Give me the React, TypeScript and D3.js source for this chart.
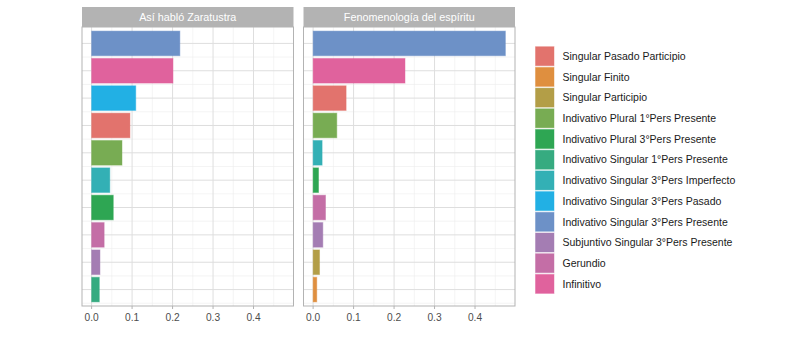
import React from "react";
import * as d3 from "d3";

const levels = [
  "Singular Pasado Participio",
  "Singular Finito",
  "Singular Participio",
  "Indivativo Plural 1°Pers Presente",
  "Indivativo Plural 3°Pers Presente",
  "Indivativo Singular 1°Pers Presente",
  "Indivativo Singular 3°Pers Imperfecto",
  "Indivativo Singular 3°Pers Pasado",
  "Indivativo Singular 3°Pers Presente",
  "Subjuntivo Singular 3°Pers Presente",
  "Gerundio",
  "Infinitivo",
];
const colors = [
  "#e2736d", "#df8f3f", "#b39e47", "#78ac53", "#2ea653", "#36ab80",
  "#33b0b5", "#22b0e4", "#6d91c7", "#a47db3", "#c46ea6", "#e0629d",
];

const panelTitles = ["Así habló Zaratustra", "Fenomenología del espíritu"];

const zaraCats = [
  "Indivativo Singular 3°Pers Presente",
  "Infinitivo",
  "Indivativo Singular 3°Pers Pasado",
  "Singular Pasado Participio",
  "Indivativo Plural 1°Pers Presente",
  "Indivativo Singular 3°Pers Imperfecto",
  "Indivativo Plural 3°Pers Presente",
  "Gerundio",
  "Subjuntivo Singular 3°Pers Presente",
  "Indivativo Singular 1°Pers Presente",
];
const zaraVals = [0.218, 0.201, 0.109, 0.0947, 0.075, 0.045, 0.0535, 0.031, 0.0206, 0.019];

const fenoCats = [
  "Indivativo Singular 3°Pers Presente",
  "Infinitivo",
  "Singular Pasado Participio",
  "Indivativo Plural 1°Pers Presente",
  "Indivativo Singular 3°Pers Imperfecto",
  "Indivativo Plural 3°Pers Presente",
  "Gerundio",
  "Subjuntivo Singular 3°Pers Presente",
  "Singular Participio",
  "Singular Finito",
];
const fenoVals = [0.475, 0.227, 0.0815, 0.0585, 0.0222, 0.0133, 0.0306, 0.024, 0.0158, 0.009];

const xTicks = [0, 0.1, 0.2, 0.3, 0.4];
const xMinor = [0.05, 0.15, 0.25, 0.35, 0.45];

const color = d3.scaleOrdinal<string, string>().domain(levels).range(colors);

const font = "'Liberation Sans', Arial, sans-serif";

function Panel({ x0, title, cats, vals }: { x0: number; title: string; cats: string[]; vals: number[] }) {
  const top = 27;
  const bottom = 306;
  const width = 211.5;
  const maxV = 0.475;
  const ex = maxV * 0.05;
  const x = d3.scaleLinear().domain([-ex, maxV + ex]).range([x0, x0 + width]);
  const ids = cats.map((_, i) => String(i));
  const y = d3.scaleBand().domain(ids).range([top, bottom]).paddingInner(0.1).paddingOuter(0.15);
  const step = y.step();
  return (
    <g>
      <rect x={x0} y={7} width={width} height={top - 7} fill="#b3b3b3" />
      <text x={x0 + width / 2} y={17} dy="0.36em" textAnchor="middle" fill="white" fontSize={10.8} fontFamily={font}>
        {title}
      </text>
      <rect x={x0} y={top} width={width} height={bottom - top} fill="white" />
      {xMinor.map((t) => (
        <line key={"mn" + t} x1={x(t)} x2={x(t)} y1={top} y2={bottom} stroke="#ededed" strokeWidth={0.6} />
      ))}
      {ids.map((id) => (
        <line key={"mh" + id} x1={x0} x2={x0 + width} y1={y(id)! + y.bandwidth() / 2 + step / 2} y2={y(id)! + y.bandwidth() / 2 + step / 2} stroke="#ededed" strokeWidth={0.6} />
      ))}
      {xTicks.map((t) => (
        <line key={"mj" + t} x1={x(t)} x2={x(t)} y1={top} y2={bottom} stroke="#dedede" strokeWidth={1} />
      ))}
      {ids.map((id) => (
        <line key={"hj" + id} x1={x0} x2={x0 + width} y1={y(id)! + y.bandwidth() / 2} y2={y(id)! + y.bandwidth() / 2} stroke="#dedede" strokeWidth={1} />
      ))}
      {cats.map((c, i) => (
        <rect
          key={c}
          x={x(0)}
          y={y(String(i))!}
          width={x(vals[i]) - x(0)}
          height={y.bandwidth()}
          fill={color(c)}
          stroke={color(c)}
          strokeOpacity={0.45}
          strokeWidth={1}
        />
      ))}
      <rect x={x0} y={top} width={width} height={bottom - top} fill="none" stroke="#b3b3b3" strokeWidth={1} />
      {xTicks.map((t) => (
        <g key={"t" + t}>
          <line x1={x(t)} x2={x(t)} y1={bottom} y2={bottom + 3} stroke="#b3b3b3" />
          <text x={x(t)} y={bottom + 11} dy="0.36em" textAnchor="middle" fill="#4d4d4d" fontSize={10.2} fontFamily={font}>
            {d3.format(".1f")(t)}
          </text>
        </g>
      ))}
    </g>
  );
}

export default function App() {
  const legendTop = 46.7;
  const legendStep = 20.7;
  return (
    <svg width={803} height={343} style={{ position: "absolute", left: 0, top: 0, background: "white" }}>
      <rect width={803} height={343} fill="white" />
      <Panel x0={82} title={panelTitles[0]} cats={zaraCats} vals={zaraVals} />
      <Panel x0={303.5} title={panelTitles[1]} cats={fenoCats} vals={fenoVals} />
      {levels.map((l, i) => (
        <g key={l} transform={`translate(535.5, ${legendTop + i * legendStep})`}>
          <rect x={0} y={0} width={18.5} height={19} fill={color(l)} stroke={color(l)} strokeOpacity={0.45} />
          <text x={27} y={9.5} dy="0.36em" fontSize={10.5} fill="#1a1a1a" fontFamily={font}>
            {l}
          </text>
        </g>
      ))}
    </svg>
  );
}
